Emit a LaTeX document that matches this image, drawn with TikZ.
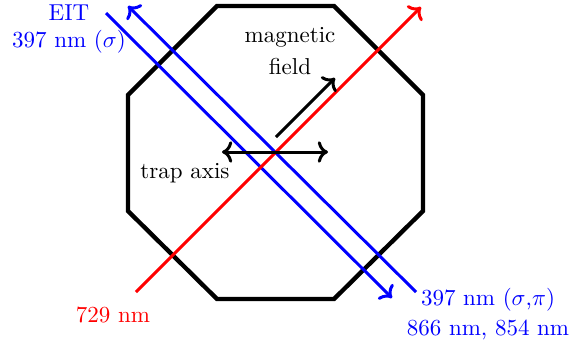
\documentclass[tikz,border=0pt]{standalone}
\usetikzlibrary{arrows.meta}
\begin{document}
\begin{tikzpicture}[x=0.4348pt,y=-0.4348pt,
  oct/.style={line width=1.9pt, line join=miter},
  beam/.style={line width=1.3pt},
  arr/.style={line width=1.3pt},
  lbl/.style={inner sep=0pt, align=center}]
\useasboundingbox (0,0) rectangle (570,342);
% chamber
\draw[oct] (217,6) -- (334,6) -- (423,95) -- (423,211) -- (334,299) -- (217,299) -- (128,211) -- (128,95) -- cycle;
% beam end points
\coordinate (eitS) at (106,13);
\coordinate (eitE) at (392,298);
\coordinate (repS) at (416,292);
\coordinate (repE) at (128,6);
\coordinate (redS) at (136,292);
\coordinate (redE) at (421,7);
\coordinate (bS) at (276,137);
\coordinate (bE) at (335,78);
\coordinate (tL) at (222,152);
\coordinate (tR) at (328,152);
% beams
\draw[beam, blue, ->] (eitS) -- (eitE);
\draw[beam, blue, ->] (repS) -- (repE);
\draw[beam, red, ->] (redS) -- (redE);
% field and trap axis
\draw[arr, ->] (bS) -- (bE);
\draw[arr, <->] (tL) -- (tR);
% labels
\node[lbl, blue] (eit) at (69,29) {EIT\\397 nm ($\sigma$)};
\node[lbl] (mag) at (290,51) {magnetic\\[2pt]field};
\node[lbl] (trap) at (185,173) {trap axis};
\node[lbl, red] (l729) at (113,315) {729 nm};
\node[lbl, blue] (l397) at (488,314) {397 nm ($\sigma$,$\pi$)\\[1pt]866 nm, 854 nm};
\end{tikzpicture}
\end{document}
